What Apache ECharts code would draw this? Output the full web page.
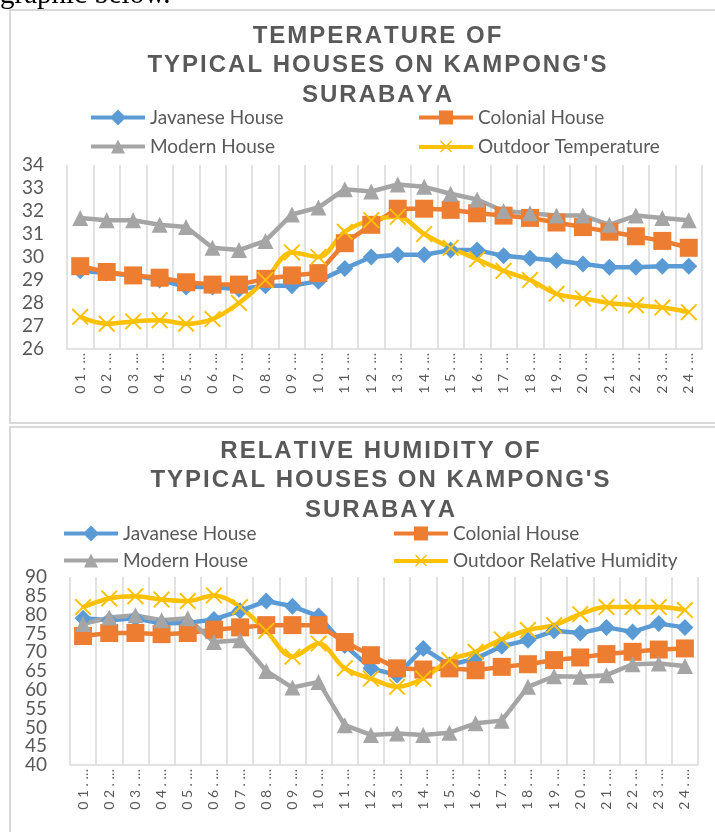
<!DOCTYPE html>
<html>
<head>
<meta charset="utf-8">
<script src="https://cdn.jsdelivr.net/npm/echarts@6/dist/echarts.min.js"></script>
<style>
  body { margin: 0; background: #fff; }
  #main { width: 715px; height: 832px; }
</style>
</head>
<body>
<div id="main"></div>
<script>
// hours of the day (Excel cuts them to "01.…")
const hours = ['01.00','02.00','03.00','04.00','05.00','06.00','07.00','08.00','09.00','10.00','11.00','12.00',
  '13.00','14.00','15.00','16.00','17.00','18.00','19.00','20.00','21.00','22.00','23.00','24.00'];

// temperature (°C)
const tempJavanese = [29.4, 29.3, 29.2, 29.0, 28.7, 28.7, 28.6, 28.75, 28.75, 28.95, 29.5, 30.0, 30.1, 30.1, 30.3, 30.3, 30.05, 29.95, 29.85, 29.7, 29.55, 29.55, 29.6, 29.6];
const tempColonial = [29.6, 29.35, 29.2, 29.1, 28.9, 28.8, 28.8, 29.05, 29.2, 29.3, 30.6, 31.4, 32.1, 32.1, 32.05, 31.9, 31.8, 31.7, 31.5, 31.3, 31.1, 30.9, 30.7, 30.4];
const tempModern = [31.7, 31.6, 31.6, 31.4, 31.3, 30.4, 30.3, 30.7, 31.85, 32.15, 32.95, 32.85, 33.15, 33.05, 32.75, 32.5, 32.0, 31.9, 31.8, 31.8, 31.4, 31.8, 31.7, 31.6];
const tempOutdoor = [27.4, 27.1, 27.2, 27.25, 27.1, 27.3, 28.0, 29.0, 30.2, 30.0, 31.1, 31.6, 31.75, 31.0, 30.4, 29.9, 29.4, 29.0, 28.4, 28.2, 28.0, 27.9, 27.8, 27.6];

// relative humidity (%)
const rhJavanese = [79.0, 78.5, 79.0, 77.6, 77.8, 78.7, 81.0, 83.6, 82.2, 79.6, 71.8, 65.7, 63.9, 71.0, 66.6, 68.3, 71.6, 73.2, 75.7, 75.1, 76.6, 75.4, 77.6, 76.6];
const rhColonial = [74.3, 75.1, 75.1, 74.8, 75.1, 76.0, 76.6, 77.2, 77.2, 77.2, 72.7, 69.2, 65.7, 65.4, 65.7, 65.2, 66.1, 66.8, 67.9, 68.6, 69.5, 70.1, 70.7, 71.0];
const rhModern = [77.5, 79.2, 79.8, 78.5, 79.0, 72.7, 73.2, 65.0, 60.6, 62.1, 50.6, 48.0, 48.4, 48.0, 48.6, 51.1, 51.8, 60.8, 63.6, 63.5, 63.9, 66.8, 67.0, 66.3];
const rhOutdoor = [82.0, 84.3, 84.9, 84.0, 83.6, 85.1, 82.0, 75.7, 68.8, 72.3, 65.7, 63.0, 60.8, 63.0, 67.9, 70.1, 73.4, 75.9, 77.2, 80.1, 82.0, 82.0, 82.0, 81.2];

// humidity tick labels, split in two sets so none gets hidden for overlap
const rhTicksEven = [40, 50, 60, 70, 80, 90];
const rhTicksOdd = [45, 55, 65, 75, 85];

const BLUE = '#5B9BD5', ORANGE = '#ED7D31', GREY = '#A5A5A5', YELLOW = '#FFC000';
const TXT = '#595959', LINE = '#d9d9d9';
const X_MARK = 'path://M0,1.6L1.6,0L10,8.4L18.4,0L20,1.6L11.6,10L20,18.4L18.4,20L10,11.6L1.6,20L0,18.4L8.4,10Z';

// legend icons: thick line + marker, 54x16 box
const BAR = 'M0,6H54V10H0Z';
const ICONS = {
    diamond: 'path://' + BAR + 'M27,0L35,8L27,16L19,8Z',
    rect: 'path://' + BAR + 'M20,1H34V15H20Z',
    triangle: 'path://' + BAR + 'M27,1L34,15L20,15Z',
    x: 'path://' + BAR + 'M21,2.5L22,1.5L27,6.5L32,1.5L33,2.5L28,7.5L33,12.5L32,13.5L27,8.5L22,13.5L21,12.5L26,7.5Z'
};

// spread letters a bit, Excel title style
function spaced (s) {
    return s.split('').join('\u200A');
}

function titleLines (lines, cx, y0) {
    return lines.map((t, i) => ({
        type: 'text',
        x: cx,
        y: y0 + i * 29.5,
        style: {
            text: spaced(t),
            font: 'bold 24px "Liberation Sans", Arial, sans-serif',
            fill: TXT,
            textAlign: 'center',
            textVerticalAlign: 'middle'
        }
    }));
}

function legend (name, icon, left, top) {
    return {
        data: [name],
        icon: ICONS[icon],
        left: left,
        top: top,
        padding: 0,
        itemWidth: 54,
        itemHeight: 16,
        itemGap: 5,
        selectedMode: false,
        textStyle: { fontFamily: 'Lato', fontSize: 19, color: TXT }
    };
}

function line (name, data, color, symbol, size, idx, smooth) {
    return {
        name: name,
        type: 'line',
        xAxisIndex: idx,
        yAxisIndex: idx,
        data: data,
        smooth: smooth ? 0.35 : false,
        symbol: symbol,
        symbolSize: size,
        showAllSymbol: true,
        lineStyle: { color: color, width: 4.5 },
        itemStyle: { color: color },
        emphasis: { disabled: true }
    };
}

function xAxis (idx) {
    return {
        type: 'category',
        gridIndex: idx,
        data: hours,
        boundaryGap: true,
        axisLine: { lineStyle: { color: LINE, width: 1.5 } },
        axisTick: { show: false },
        splitLine: { show: true, lineStyle: { color: LINE, width: 1.5 } },
        axisLabel: {
            interval: 0,
            rotate: 90,
            margin: 4,
            color: TXT,
            fontFamily: 'Lato',
            fontSize: 14,
            formatter: v => v.slice(0, 3).split('').join(' ') + ' \u2026'
        }
    };
}

function yAxis (idx, min, max, step, custom) {
    const label = { color: TXT, fontFamily: 'Lato', fontSize: 19, margin: 23 };
    if (custom) label.customValues = custom;
    return {
        type: 'value',
        gridIndex: idx,
        position: 'left',
        offset: 0,
        min: min,
        max: max,
        interval: step,
        axisLine: { show: false },
        axisTick: { show: false },
        splitLine: { show: false },
        axisLabel: label
    };
}

const chart = echarts.init(document.getElementById('main'));
chart.setOption({
    animation: false,
    backgroundColor: '#fff',
    graphic: [
        {
            type: 'text', x: 0, y: -5,
            style: { text: 'graphic below.', font: '29px "Liberation Serif", serif', fill: '#000', textVerticalAlign: 'middle' }
        },
        { type: 'rect', shape: { x: 10, y: 10, width: 720, height: 413 }, style: { fill: 'none', stroke: LINE, lineWidth: 2 } },
        { type: 'rect', shape: { x: 10, y: 427, width: 720, height: 430 }, style: { fill: 'none', stroke: LINE, lineWidth: 2 } },
        ...titleLines(['TEMPERATURE OF', "TYPICAL HOUSES ON KAMPONG'S", 'SURABAYA'], 377, 36),
        ...titleLines(['RELATIVE HUMIDITY OF', "TYPICAL HOUSES ON KAMPONG'S", 'SURABAYA'], 380, 451)
    ],
    legend: [
        legend('Javanese House', 'diamond', 91, 108),
        legend('Colonial House', 'rect', 419, 108),
        legend('Modern House', 'triangle', 91, 137),
        legend('Outdoor Temperature', 'x', 419, 137),
        legend('Javanese House', 'diamond', 64, 524),
        legend('Colonial House', 'rect', 394, 524),
        legend('Modern House', 'triangle', 64, 551),
        legend('Outdoor Relative Humidity', 'x', 394, 551)
    ],
    grid: [
        { left: 67, top: 165, width: 635, height: 184 },
        { left: 70, top: 577, width: 628, height: 188 }
    ],
    xAxis: [xAxis(0), xAxis(1)],
    yAxis: [
        yAxis(0, 26, 34, 1),
        yAxis(1, 40, 90, 5, rhTicksEven),
        yAxis(1, 40, 90, 5, rhTicksOdd)
    ],
    series: [
        line('Javanese House', tempJavanese, BLUE, 'diamond', 17, 0),
        line('Colonial House', tempColonial, ORANGE, 'rect', 18, 0),
        line('Modern House', tempModern, GREY, 'triangle', 16, 0),
        line('Outdoor Temperature', tempOutdoor, YELLOW, X_MARK, 17, 0, true),
        line('Javanese House', rhJavanese, BLUE, 'diamond', 17, 1),
        line('Colonial House', rhColonial, ORANGE, 'rect', 18, 1),
        line('Modern House', rhModern, GREY, 'triangle', 16, 1),
        line('Outdoor Relative Humidity', rhOutdoor, YELLOW, X_MARK, 17, 1, true)
    ]
});
</script>
</body>
</html>
